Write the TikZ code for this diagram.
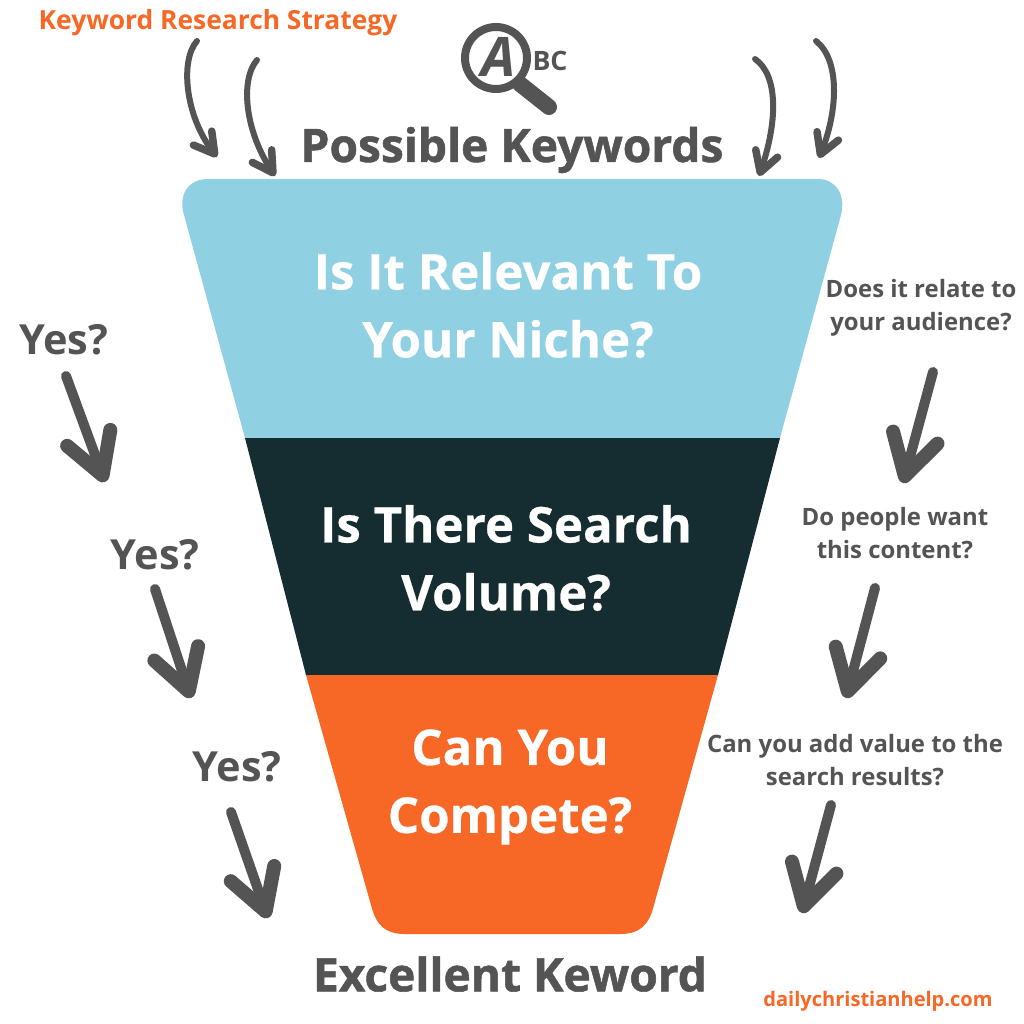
\documentclass[tikz,border=0pt]{standalone}
\usepackage{fontspec}
\setmainfont{Open Sans}
\newfontfamily\xbold[BoldFeatures={FakeBold=1.2}]{Open Sans}
\newfontfamily\mbold[BoldFeatures={FakeBold=.5}]{Open Sans}
\usetikzlibrary{arrows.meta}
\definecolor{nicheblue}{HTML}{90D0E3}
\definecolor{volumedark}{HTML}{152C30}
\definecolor{competeorange}{HTML}{F76726}
\definecolor{inkgray}{HTML}{545454}
\tikzset{
  funneltext/.style={text=white,align=center,font=\fontsize{14}{19.3}\selectfont\mbold\bfseries},
  headtext/.style={text=inkgray,font=\fontsize{13.1}{15}\selectfont\xbold\bfseries},
  sidetext/.style={text=inkgray,align=center,font=\fontsize{6.8}{9.4}\selectfont\bfseries},
  yestext/.style={text=inkgray,font=\fontsize{11.8}{14}\selectfont\bfseries},
  orangetext/.style={text=competeorange,font=\fontsize{7.5}{9}\selectfont\bfseries},
  bigarrow/.style={inkgray,line width=1mm,line cap=round,-{Straight Barb[round,length=4mm,width=4.6mm,line width=1.4mm]}},
  thinarrow/.style={inkgray,line width=.6mm,line cap=round,-{Straight Barb[round,length=2mm,width=2.3mm,line width=.75mm]}}
}
\begin{document}
\begin{tikzpicture}[x=0.01cm,y=-0.01cm]
  \useasboundingbox (0,0) rectangle (1024,1024);
  \fill[nicheblue] (245,438) -- (184,215) .. controls (178,195) and (188,179) .. (208,179) -- (818,179) .. controls (836,179) and (846,195) .. (841,215) -- (780,438) -- cycle;
  \fill[volumedark] (245,438) -- (780,438) -- (718,675) -- (306,675) -- cycle;
  \fill[competeorange] (306,675) -- (718,675) -- (654,905) .. controls (649,925) and (640,934) .. (620,934) -- (405,934) .. controls (385,934) and (376,925) .. (371,905) -- cycle;
  \node[funneltext] (niche) at (508,305) {Is It Relevant To\\Your Niche?};
  \node[funneltext] (volume) at (506,558) {Is There Search\\Volume?};
  \node[funneltext] (compete) at (510,787) {Can You\\Compete?};
  \node[headtext] (possible) at (512,150) {Possible Keywords};
  \node[headtext] (excellent) at (510,974) {Excellent Keword};
  \node[orangetext,anchor=west,inner sep=0pt] (strategy) at (38,23) {Keyword Research Strategy};
  \node[orangetext,font=\fontsize{5.7}{8}\selectfont\bfseries] (site) at (878,1001) {dailychristianhelp.com};
  \node[yestext] (yesa) at (64,340) {Yes?};
  \node[yestext] (yesb) at (155,555) {Yes?};
  \node[yestext] (yesc) at (237,767) {Yes?};
  \node[sidetext] (audience) at (921,308) {Does it relate to\\your audience?};
  \node[sidetext] (content) at (895,533) {Do people want\\this content?};
  \node[sidetext] (results) at (855,760) {Can you add value to the\\search results?};
  \draw[inkgray,line width=.08cm] (496,58) circle (31);
  \draw[inkgray,line width=.16cm,line cap=round] (520,84) -- (549,107);
  \node[text=inkgray,font=\fontsize{15.5}{17}\selectfont\xbold\bfseries\itshape,inner sep=0pt] (lettera) at (499,57) {A};
  \node[text=inkgray,font=\fontsize{7.6}{9}\selectfont\bfseries,inner sep=0pt] (letterbc) at (550,61) {BC};
  \coordinate (ya) at (66,376);   \coordinate (yb) at (105,482);
  \coordinate (yc) at (155,589);  \coordinate (yd) at (191,698);
  \coordinate (ye) at (231,812);  \coordinate (yf) at (268,918);
  \coordinate (ra) at (933,372);  \coordinate (rb) at (903,483);
  \coordinate (rc) at (875,588);  \coordinate (rd) at (846,698);
  \coordinate (re) at (831,805);  \coordinate (rf) at (802,913);
  \draw[bigarrow] (ya) -- (yb);
  \draw[bigarrow] (yc) -- (yd);
  \draw[bigarrow] (ye) -- (yf);
  \draw[bigarrow] (ra) -- (rb);
  \draw[bigarrow] (rc) -- (rd);
  \draw[bigarrow] (re) -- (rf);
  \coordinate (ka) at (197,41);  \coordinate (kb) at (217,157);
  \coordinate (kc) at (257,60);  \coordinate (kd) at (275,176);
  \coordinate (ke) at (755,59);  \coordinate (kf) at (759,176);
  \coordinate (kg) at (816,41);  \coordinate (kh) at (819,158);
  \draw[thinarrow] (ka) .. controls (180,60) and (185,115) .. (kb);
  \draw[thinarrow] (kc) .. controls (240,80) and (245,130) .. (kd);
  \draw[thinarrow] (ke) .. controls (778,75) and (778,120) .. (kf);
  \draw[thinarrow] (kg) .. controls (840,60) and (838,110) .. (kh);
\end{tikzpicture}
\end{document}
